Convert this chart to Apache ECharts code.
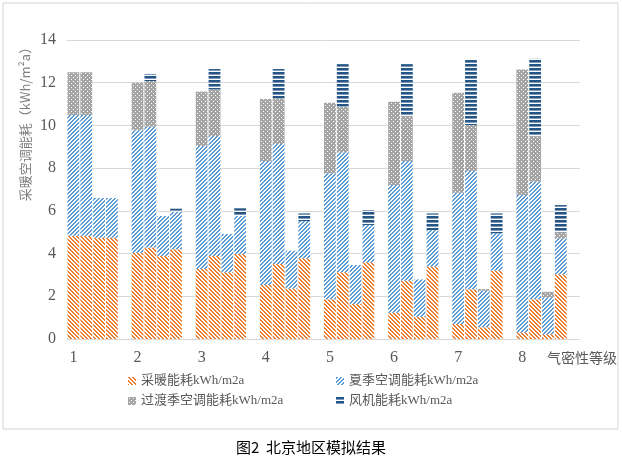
<!DOCTYPE html>
<html><head><meta charset="utf-8">
<script src="https://cdn.jsdelivr.net/npm/echarts@6/dist/echarts.min.js"></script>
<style>html,body{margin:0;padding:0;background:#fff}#c{width:623px;height:460px}</style>
</head><body><div id="c"></div>
<script>
// ---- data (4 bars per airtightness level) ----
const groupLabels = ['1','2','3','4','5','6','7','8'];
const heating = [4.84,4.84,4.74,4.74, 4.04,4.28,3.89,4.20, 3.28,3.89,3.12,3.98, 2.53,3.51,2.36,3.78,
                 1.86,3.12,1.64,3.59, 1.23,2.73,1.04,3.39, 0.70,2.33,0.55,3.20, 0.31,1.86,0.22,3.03];
const summerAC = [5.65,5.65,1.86,1.86, 5.74,5.66,1.87,1.76, 5.76,5.61,1.80,1.78, 5.80,5.62,1.77,1.74,
                  5.90,5.62,1.82,1.75, 5.98,5.60,1.75,1.71, 6.15,5.54,1.71,1.75, 6.43,5.51,1.73,1.68];
const transitionAC = [2.00,2.00,0,0, 2.22,2.14,0,0, 2.54,2.19,0,0, 2.91,2.14,0,0,
                      3.30,2.14,0,0, 3.90,2.11,0,0, 4.68,2.15,0.08,0, 5.88,2.13,0.26,0.29];
const fanEnergy = [0,0,0,0, 0,0.33,0,0.14, 0,0.95,0,0.36, 0,1.37,0,0.36,
                   0,1.99,0,0.70, 0,2.43,0,0.78, 0,3.04,0,0.93, 0,3.62,0,1.27];
const seriesNames = ['采暖能耗kWh/m2a','夏季空调能耗kWh/m2a','过渡季空调能耗kWh/m2a','风机能耗kWh/m2a'];
const yMin = 0, yMax = 14, yStep = 2;

// ---- build 5 slots per group (4 bars + gap) ----
const cats = [];
groupLabels.forEach(g => { cats.push(g); ['b','c','d','gap'].forEach(s => cats.push(g + s)); });
function expand(arr) {
  const out = [];
  for (let g = 0; g < groupLabels.length; g++) {
    for (let k = 0; k < 4; k++) { const v = arr[g*4+k]; out.push(v > 0 ? v : null); }
    out.push(null);
  }
  return out;
}

// ---- hatch patterns ----
function makePat(w, h, fn) {
  const c = document.createElement('canvas'); c.width = w; c.height = h;
  const ctx = c.getContext('2d'); fn(ctx); return c;
}
const pOrange = makePat(4,4,ctx => { ctx.fillStyle='#fff'; ctx.fillRect(0,0,4,4); ctx.fillStyle='#ED7D31';
  for (let y=0;y<4;y++) for (let x=0;x<4;x++) if (((x-y+8)%4) < 2) ctx.fillRect(x,y,1,1); });
const pBlue = makePat(4,4,ctx => { ctx.fillStyle='#fff'; ctx.fillRect(0,0,4,4); ctx.fillStyle='#5B9BD5';
  for (let y=0;y<4;y++) for (let x=0;x<4;x++) if (((x+y)%4) < 2) ctx.fillRect(x,y,1,1); });
const pGray = makePat(4,4,ctx => { ctx.fillStyle='#A5A5A5'; ctx.fillRect(0,0,4,4); ctx.fillStyle='#fff';
  ctx.fillRect(1,1,1,1); ctx.fillRect(3,3,1,1); });
const pFan = makePat(4,4,ctx => { ctx.fillStyle='#fff'; ctx.fillRect(0,0,4,4); ctx.fillStyle='#255585';
  ctx.fillRect(0,0,4,2); ctx.fillStyle='#7f9bbb'; ctx.fillRect(0,2,4,1); });
const pats = [pOrange, pBlue, pGray, pFan];
const dataSets = [heating, summerAC, transitionAC, fanEnergy];

const serif = "'Liberation Serif','Noto Sans CJK SC',serif";
const chart = echarts.init(document.getElementById('c'), null, {renderer:'canvas'});
chart.setOption({
  animation: false,
  backgroundColor: '#fff',
  grid: {left: 67, right: 43, top: 40, bottom: 121, containLabel: false},
  xAxis: {
    type: 'category', data: cats,
    axisLine: {lineStyle: {color: '#d9d9d9'}},
    axisTick: {show: false},
    axisLabel: {interval: (i) => i % 5 === 0, color: '#595959', fontSize: 16, fontFamily: serif, margin: 11}
  },
  yAxis: {
    type: 'value', min: yMin, max: yMax, interval: yStep,
    axisLine: {show: false}, axisTick: {show: false},
    splitLine: {lineStyle: {color: '#d9d9d9'}},
    axisLabel: {color: '#595959', fontSize: 16, fontFamily: serif, margin: 11}
  },
  legend: [
    {data:[seriesNames[0]], left:128, top:374},
    {data:[seriesNames[1]], left:336, top:374},
    {data:[seriesNames[2]], left:128, top:394},
    {data:[seriesNames[3]], left:336, top:394}
  ].map(l => Object.assign(l, {padding:0, icon:'rect', itemWidth:8, itemHeight:8,
      selectedMode:false, textStyle:{color:'#595959', fontSize:13, fontFamily:serif, lineHeight:14}})),
  series: seriesNames.map((n, i) => ({
    name: n, type: 'bar', stack: 'total', data: expand(dataSets[i]),
    barCategoryGap: '8%', itemStyle: {color: {image: pats[i], repeat: 'repeat'}}
  })),
  graphic: [
    {type:'rect', shape:{x:3, y:3, width:615, height:426}, style:{fill:'none', stroke:'#d4d4d4', lineWidth:1}, silent:true},
    {type:'text', x:25, y:121, rotation: Math.PI/2,
      style:{text:'采暖空调能耗（kWh/m²a）', fill:'#7f7f7f', font:"13px 'Noto Sans CJK SC','Liberation Serif'", textAlign:'center', textVerticalAlign:'middle'}},
    {type:'text', x:547, y:358,
      style:{text:'气密性等级', fill:'#595959', font:"14px 'Noto Sans CJK SC'", textAlign:'left', textVerticalAlign:'middle'}},
    {type:'text', x:311, y:447,
      style:{text:'图2  北京地区模拟结果', fill:'#000', font:"15px 'Noto Sans CJK SC'", textAlign:'center', textVerticalAlign:'middle'}}
  ]
});
</script></body></html>
